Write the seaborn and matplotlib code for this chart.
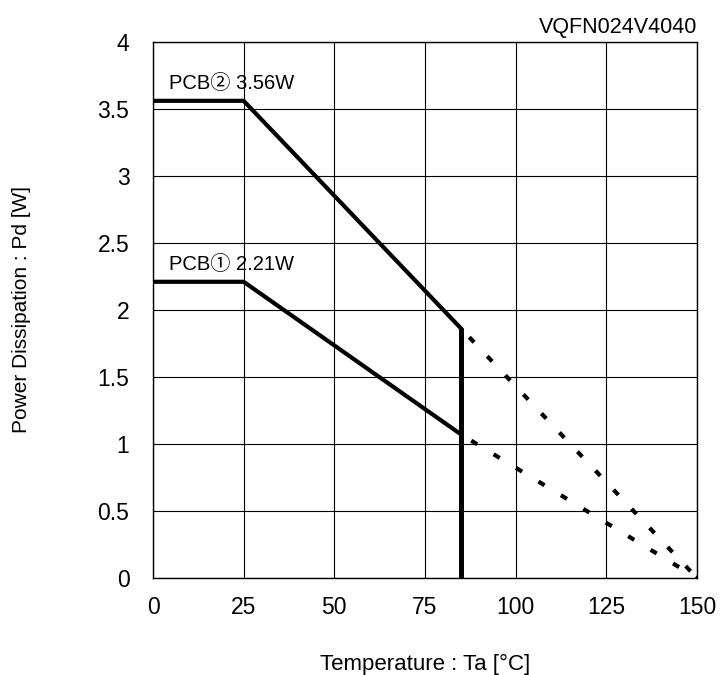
import matplotlib
matplotlib.use("Agg")
import matplotlib.pyplot as plt
import seaborn as sns

# Data
pcb2_x = [0, 25, 85]
pcb2_y = [3.56, 3.56, 1.86]
pcb2_dash_x = [85, 150]
pcb2_dash_y = [1.86, 0.0]

pcb1_x = [0, 25, 85]
pcb1_y = [2.21, 2.21, 1.07]
pcb1_dash_x = [85, 150]
pcb1_dash_y = [1.07, 0.0]

vline_x = [85, 85]
vline_y = [0.0, 1.86]

x_ticks = [0, 25, 50, 75, 100, 125, 150]
y_ticks = [0, 0.5, 1, 1.5, 2, 2.5, 3, 3.5, 4]
y_tick_labels = ["0", "0.5", "1", "1.5", "2", "2.5", "3", "3.5", "4"]

sns.set_theme(style="white")
plt.rcParams['font.family'] = ['Liberation Sans', 'Noto Sans CJK JP', 'DejaVu Sans']

fig = plt.figure(figsize=(7.2, 6.75), dpi=100)
ax = fig.add_axes([0.2125, 0.1437, 0.7555, 0.7943])

common = dict(color="black", ax=ax, legend=False, estimator=None, sort=False)
sns.lineplot(x=pcb2_x, y=pcb2_y, linewidth=3, **common)
sns.lineplot(x=pcb1_x, y=pcb1_y, linewidth=3, **common)
sns.lineplot(x=vline_x, y=vline_y, linewidth=3.6, **common)
for dx, dy in [(pcb2_dash_x, pcb2_dash_y), (pcb1_dash_x, pcb1_dash_y)]:
    sns.lineplot(x=dx, y=dy, linewidth=3, linestyle=(3.5, (1.7, 4.6)), **common)

ax.set_xlim(0, 150)
ax.set_ylim(0, 4)
ax.set_xticks(x_ticks)
ax.set_xticklabels([str(t) for t in x_ticks])
ax.set_yticks(y_ticks)
ax.set_yticklabels(y_tick_labels)
ax.grid(True, color="black", linewidth=0.8)
ax.set_axisbelow(True)
for s in ax.spines.values():
    s.set_color("black")
    s.set_linewidth(1.0)
ax.tick_params(axis="both", length=0, labelsize=16.5, colors="black")
ax.tick_params(axis="x", pad=13)
ax.tick_params(axis="y", pad=17)

ax.set_xlabel("Temperature : Ta [°C]", fontsize=16, color="black", va="center")
ax.set_ylabel("Power Dissipation : Pd [W]", fontsize=15, color="black", va="center")
ax.xaxis.set_label_coords(0.5, -0.162)
ax.yaxis.set_label_coords(-0.241, 0.5)

ax.text(1.0, 1.008, "VQFN024V4040", transform=ax.transAxes, ha="right", va="bottom",
        fontsize=15.5, color="black")
ax.text(4.5, 3.62, "PCB② 3.56W", ha="left", va="bottom", fontsize=14.5, color="black")
ax.text(4.5, 2.27, "PCB① 2.21W", ha="left", va="bottom", fontsize=14.5, color="black")

fig.savefig("out.png", dpi=100)
